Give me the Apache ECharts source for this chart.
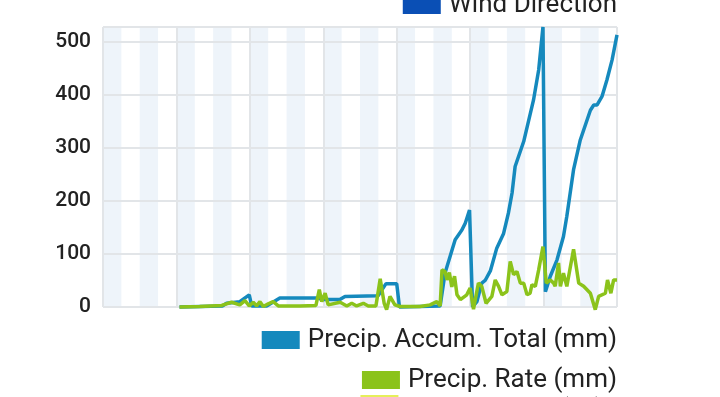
<!DOCTYPE html>
<html>
<head>
<meta charset="utf-8">
<title>Precipitation</title>
<script src="https://cdn.jsdelivr.net/npm/echarts@6/dist/echarts.min.js"></script>
<style>
  html, body { margin: 0; padding: 0; background: #fff; }
  #chart { width: 720px; height: 397px; }
</style>
</head>
<body>
<div id="chart"></div>
<script>
// hours since the start of the week shown (7 days = 168 h)
const accumHours = [25, 39, 40.4, 44.7, 47.8, 48.6, 53.5, 57.8, 70.3, 71.6, 77.4, 79.1, 89.9, 92.5, 96.0, 96.9,
  110.2, 111.8, 115.1, 117.3, 118.4, 119.8, 120.2, 120.8, 122.2, 123.8, 124.9, 126.6, 128.7, 130.9, 132.5,
  133.7, 134.7, 137.5, 140.7, 142.4, 143.8, 144.6, 145.1, 146.2, 148.4, 150.5, 151.6, 153.8, 156.0, 159.3,
  160.4, 161.5, 163.1, 164.7, 166.4, 168]
const accumTotal = [0, 2, 7, 10, 23, 2, 2, 17, 17, 14, 14, 20, 21, 44, 44, 0,
  2, 64, 127, 145, 158, 183, 183, 0, 10, 45, 50, 68, 111, 138, 177,
  215, 265, 312, 390, 447, 528, 29, 29, 58, 89, 133, 171, 259, 315, 371,
  381, 381, 397, 428, 466, 513]

const rateHours = [25, 31.6, 38.8, 42.0, 44.7, 46.4, 47.8, 49.1, 50.2, 51.3, 52.4, 54.0, 55.6, 57.3, 64.4, 69.6,
  70.7, 71.5, 72.6, 73.6, 77.5, 79.7, 81.3, 82.9, 85.1, 86.7, 89.2, 90.6, 91.9, 92.7, 93.8, 95.4, 97.1,
  103.6, 106.9, 109.1, 110.2, 110.8, 111.8, 112.4, 113.2, 114.0, 114.9, 115.7, 116.8, 118.9, 120.0, 121.1,
  122.7, 123.8, 125.2, 127.1, 128.2, 129.3, 130.4, 132.0, 133.1, 134.2, 135.3, 136.4, 137.5, 138.6, 139.6,
  140.2, 141.3, 142.4, 143.8, 144.9, 146.2, 147.3, 147.8, 148.9, 149.5, 150.5, 151.6, 153.8, 155.5, 157.1,
  159.3, 160.9, 162.0, 164.2, 164.9, 166.0, 166.9, 168]
const rateValues = [0, 1, 3, 9, 4, 12, 2, 9, 2, 10, 1, 6, 10, 2, 2, 3,
  33, 10, 26, 4, 9, 2, 7, 2, 7, 2, 2, 53, 7, -5, 20, 4, 1,
  1, 4, 10, 2, 70, 67, 51, 65, 38, 58, 23, 14, 23, 36, -4,
  45, 39, 7, 20, 51, 39, 23, 29, 86, 61, 67, 45, 45, 23, 26,
  42, 39, 70, 114, 45, 51, 45, 39, 83, 39, 64, 39, 109, 45, 39,
  26, -5, 20, 26, 51, 26, 51, 51]

const seriesNames = ['Wind Direction', 'Precip. Accum. Total (mm)', 'Precip. Rate (mm)', 'Temperature (°C)']
const seriesColors = ['#0a4fb5', '#1589bd', '#8bc31b', '#e6ef5a']

const pairs = (xs, ys) => xs.map((x, i) => [x, ys[i]])

const chart = echarts.init(document.getElementById('chart'))

const legendBase = {
  orient: 'vertical',
  right: 103,
  padding: 0,
  icon: 'rect',
  itemWidth: 38,
  itemHeight: 18,
  textStyle: { fontSize: 26, color: '#222', fontFamily: 'Roboto', padding: [0, 0, 0, 3] },
  selectedMode: false
}

const gridLine = { color: '#e2e5e8', width: 2 }

const option = {
  animation: false,
  backgroundColor: '#fff',
  grid: { left: 103, right: 103, top: 27, bottom: 90 },
  legend: [
    Object.assign({}, legendBase, { data: [seriesNames[0]], top: -8 }),
    Object.assign({}, legendBase, { data: [seriesNames[1]], top: 327 }),
    Object.assign({}, legendBase, { data: [seriesNames[2]], top: 367 }),
    Object.assign({}, legendBase, { data: [seriesNames[3]], top: 395, itemHeight: 30, right: 116 })
  ],
  xAxis: [
    {
      // quarter-day bands behind everything
      type: 'value',
      position: 'top',
      z: -1,
      min: 0,
      max: 168,
      interval: 6,
      axisLine: { show: false },
      axisTick: { show: false },
      axisLabel: { show: false },
      splitLine: { show: false },
      splitArea: { show: true, areaStyle: { color: ['#eef4fa', 'rgba(255,255,255,0)'] } }
    },
    {
      type: 'value',
      z: 1,
      min: 0,
      max: 168,
      interval: 24,
      axisLine: { show: false },
      axisTick: { show: false },
      axisLabel: { show: false },
      splitLine: { show: true, lineStyle: gridLine }
    }
  ],
  yAxis: {
    type: 'value',
    z: 1,
    min: 0,
    max: 528,
    interval: 100,
    axisLine: { show: false },
    axisTick: { show: false },
    axisLabel: {
      color: '#222',
      fontSize: 21,
      fontWeight: 500,
      fontFamily: 'Roboto',
      margin: 12,
      showMaxLabel: false
    },
    splitLine: { lineStyle: gridLine }
  },
  series: [
    {
      name: seriesNames[0],
      type: 'line',
      xAxisIndex: 1,
      data: [],
      itemStyle: { color: seriesColors[0] },
      lineStyle: { color: seriesColors[0] }
    },
    {
      name: seriesNames[1],
      type: 'line',
      xAxisIndex: 1,
      z: 3,
      data: pairs(accumHours, accumTotal),
      showSymbol: false,
      symbol: 'none',
      clip: false,
      itemStyle: { color: seriesColors[1] },
      lineStyle: { color: seriesColors[1], width: 3.5 }
    },
    {
      name: seriesNames[2],
      type: 'line',
      xAxisIndex: 1,
      z: 4,
      data: pairs(rateHours, rateValues),
      showSymbol: false,
      symbol: 'none',
      clip: false,
      itemStyle: { color: seriesColors[2] },
      lineStyle: { color: seriesColors[2], width: 3.5 }
    },
    {
      name: seriesNames[3],
      type: 'line',
      xAxisIndex: 1,
      data: [],
      itemStyle: { color: seriesColors[3] },
      lineStyle: { color: seriesColors[3] }
    }
  ]
}

chart.setOption(option)
</script>
</body>
</html>
